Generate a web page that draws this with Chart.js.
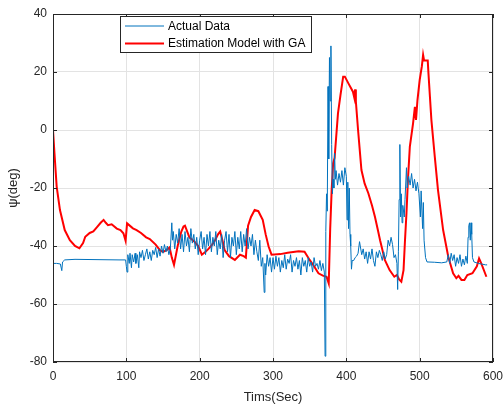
<!DOCTYPE html>
<html>
<head>
<meta charset="utf-8">
<script src="https://cdn.jsdelivr.net/npm/chart.js@4/dist/chart.umd.min.js"></script>
<style>
  html, body { margin: 0; padding: 0; background: #fff; }
  #box { width: 503px; height: 405px; }
</style>
</head>
<body>
<div id="box"><canvas id="grafico"></canvas></div>
<script>
// dados
const actualTime = [0, 5, 10, 12, 13, 16, 30, 60, 90, 99, 100, 101, 102, 104, 105, 107, 108, 110, 112, 113,
  115, 117, 118, 120, 122, 124, 126, 128, 130, 132, 134, 136, 138, 140, 142, 144, 146, 148, 150, 152,
  154, 156, 158, 160, 162, 163, 164, 166, 168, 170, 172, 174, 176, 178, 180, 182, 184, 186, 188, 190,
  192, 194, 196, 198, 200, 202, 204, 206, 208, 210, 212, 214, 216, 218, 220, 222, 224, 226, 228, 230,
  232, 234, 236, 238, 240, 242, 244, 246, 248, 250, 252, 254, 256, 258, 260, 262, 264, 266, 268, 270,
  272, 274, 276, 278, 280, 282, 284, 286, 288, 289, 290, 292, 294, 296, 298, 300, 302, 304, 306, 308,
  310, 312, 314, 316, 318, 320, 322, 324, 326, 328, 330, 332, 334, 336, 338, 340, 342, 344, 346, 348,
  350, 352, 354, 356, 358, 360, 362, 364, 366, 368, 370, 371, 372, 373, 374, 375, 376, 377, 378, 379,
  380, 381, 382, 383, 384, 385, 386, 388, 390, 392, 394, 396, 398, 400, 401, 402, 403, 404, 405, 406,
  407, 408, 410, 412, 414, 416, 418, 421, 423, 425, 427, 429, 431, 433, 435, 437, 439, 441, 443, 445,
  447, 449, 451, 453, 455, 457, 459, 461, 463, 465, 467, 469, 470, 471, 472, 473, 474, 475, 476, 477,
  479, 480, 482, 483, 485, 487, 489, 491, 493, 495, 497, 499, 501, 502, 504, 505, 506, 508, 510, 520,
  530, 537, 539, 541, 543, 545, 547, 549, 551, 553, 555, 557, 559, 561, 563, 565, 566, 567, 568, 569,
  570, 571, 572, 574, 580, 590, 592];
const actualPsi = [-46, -46, -46.2, -48.5, -45.5, -44.8, -44.6, -44.7, -44.8, -44.8, -47, -49, -43, -46, -42.5, -47.5, -43, -45.5, -42.5, -46,
  -43, -47.5, -42, -44, -41.5, -45, -43, -41, -44.5, -42, -45, -41.5, -43, -40.5, -44, -41, -43.5, -40, -42.5, -39.5,
  -42, -40, -43, -41, -32, -38, -35, -41, -36, -39, -34, -41, -36, -42, -35, -40, -37, -42, -34, -39,
  -36, -41, -37, -43, -38, -35, -41, -37, -43, -36, -40, -35, -42, -37, -40, -35, -43, -38, -41, -36,
  -44, -38, -35, -42, -36, -44, -37, -40, -35, -43, -37, -41, -35, -42, -36, -40, -34, -41, -37, -40,
  -36, -43, -38, -42, -45, -38, -47, -44, -56, -46, -50, -43, -47, -44, -49, -44, -48, -43.5, -47, -44,
  -49, -45, -47.5, -43, -48, -44.5, -46, -43, -49, -45, -47, -44, -48, -45, -50, -44, -47, -45, -49, -44,
  -47, -45.5, -49, -44, -47, -46, -48, -45, -48.5, -46, -49, -78, -35, -22, -28, 15, -10, 25, 10, 29,
  -5, -22, -17, -20, -8, -17, -14, -19, -15, -18, -14, -19, -13, -16, -31, -18, -34, -20, -36, -40,
  -48, -45, -45, -44, -43.5, -42.5, -38.5, -43, -41, -44.5, -42, -46, -42, -44.5, -41, -45, -47, -42, -44, -41.5,
  -43, -45, -42, -44.5, -43, -38, -40, -37, -39.5, -44, -43, -46, -55, -42, -24, -5, -30, -22, -32, -26,
  -30, -24, -13, -20, -16, -19, -15, -20, -17, -21, -18, -22, -30, -21, -34, -25, -38, -44, -45.5, -45.6,
  -45.8, -45.5, -43, -46, -42.5, -45, -43, -47, -44, -46, -43, -47, -44.5, -46.5, -43.5, -46, -37, -33, -32, -38,
  -32, -36, -44, -45.5, -46, -46.5, -46.5];

const estTime = [0, 2, 5, 9.5, 16, 23, 30, 36, 41, 44, 50, 55, 60, 65, 69, 72, 75, 80, 87, 92,
  96, 99, 101, 109, 114, 120, 127, 132, 140, 146, 150, 155, 159, 162, 165, 170, 175, 178, 180, 186,
  193, 198, 203, 208, 212, 217, 221, 225, 228, 231, 234, 240, 248, 255, 260, 263, 266, 270, 275, 280,
  286, 290, 294, 298, 310, 320, 335, 343, 350, 356, 362, 368, 373, 376, 378, 380, 382, 384, 388.6, 392,
  395.7, 398, 403, 409, 411, 412, 413, 416, 420.6, 425, 430, 435, 439, 443, 446, 452.5, 459, 465.4, 469, 472,
  475, 478, 480, 482, 484, 486.6, 491, 493.5, 495, 497, 500, 503, 504.7, 506, 511, 512, 516, 520.6, 525, 532,
  539, 545.6, 550, 553, 557, 561, 565, 572, 578, 581, 584, 591];
const estPsi = [0, -8, -19.5, -27.6, -34.5, -38, -40, -40.8, -39, -36.8, -35.5, -35, -33.5, -32, -31, -32, -32.8, -32.5, -34, -34.5,
  -35.6, -38.2, -32.2, -33.9, -34.5, -35.5, -37, -37.6, -39.5, -41.5, -42, -41.4, -40.5, -44, -46.5, -40, -35, -33.3, -33, -37,
  -38.5, -40, -43, -42, -41, -39.5, -38, -36, -35, -38, -41.4, -43.5, -44.8, -43, -43.5, -44, -33, -30, -27.6, -28,
  -31, -36, -40.2, -43, -42.8, -42.3, -41.8, -42, -44.8, -47, -49.4, -50.2, -50.6, -52.9, -34, -20.7, -11.5, -9.6, 5.7, 12,
  18.4, 18.4, 16, 13.2, 11, 14, 9.8, 0, -13.8, -18.5, -21.8, -26, -29.9, -34.5, -38, -44.8, -48.3, -50.6, -50, -51.5,
  -52.3, -48.3, -38, -28.7, -17.2, -5.7, 2.3, 8, 3.5, 10.3, 17.2, 22, 25.9, 24, 24, 19.5, 3.4, -9.2, -20.7, -34.5,
  -43.7, -49.4, -51.1, -50.3, -51.7, -51.7, -50, -49.4, -47, -44.3, -46, -50.6];

const xTicks = [0, 100, 200, 300, 400, 500, 600];
const yTicks = [-80, -60, -40, -20, 0, 20, 40];
const seriesNames = ['Actual Data', 'Estimation Model with GA'];

const fonte = '"Liberation Sans", Arial, sans-serif';
const corEixo = '#262626';

// moldura com ticks para dentro e legenda no estilo do MATLAB
const molduraPlugin = {
    id: 'moldura',
    afterDatasetsDraw(chart) {
        const { ctx, chartArea: a, scales } = chart;
        ctx.save();
        ctx.strokeStyle = corEixo;
        ctx.lineWidth = 1;
        ctx.strokeRect(Math.round(a.left) + 0.5, Math.round(a.top) + 0.5,
            Math.round(a.width) - 1, Math.round(a.height) - 1);

        const tam = 4;
        ctx.beginPath();
        xTicks.forEach(v => {
            const px = Math.round(scales.x.getPixelForValue(v)) + 0.5;
            ctx.moveTo(px, a.bottom); ctx.lineTo(px, a.bottom - tam);
            ctx.moveTo(px, a.top); ctx.lineTo(px, a.top + tam);
        });
        yTicks.forEach(v => {
            const py = Math.round(scales.y.getPixelForValue(v)) + 0.5;
            ctx.moveTo(a.left, py); ctx.lineTo(a.left + tam, py);
            ctx.moveTo(a.right, py); ctx.lineTo(a.right - tam, py);
        });
        ctx.stroke();

        // legenda
        const lx = 120.5, ly = 16.5, lw = 191, lh = 36;
        ctx.fillStyle = '#fff';
        ctx.fillRect(lx, ly, lw, lh);
        ctx.strokeStyle = corEixo;
        ctx.strokeRect(lx, ly, lw, lh);
        ctx.font = '12px ' + fonte;
        ctx.textBaseline = 'middle';
        chart.data.datasets.forEach((ds, i) => {
            const y = 26 + i * 17.5;
            ctx.strokeStyle = ds.borderColor;
            ctx.lineWidth = ds.borderWidth;
            ctx.beginPath();
            ctx.moveTo(125, y); ctx.lineTo(164, y);
            ctx.stroke();
            ctx.fillStyle = '#000';
            ctx.fillText(ds.label, 168, y + 0.5);
        });
        ctx.restore();
    }
};

new Chart(document.getElementById('grafico'), {
    type: 'line',
    data: {
        datasets: [{
            label: seriesNames[0],
            data: actualTime.map((t, i) => ({ x: t, y: actualPsi[i] })),
            borderColor: '#0072BD',
            borderWidth: 1,
            pointRadius: 0,
            tension: 0
        }, {
            label: seriesNames[1],
            data: estTime.map((t, i) => ({ x: t, y: estPsi[i] })),
            borderColor: '#FF0000',
            borderWidth: 2,
            pointRadius: 0,
            tension: 0
        }]
    },
    options: {
        responsive: true,
        maintainAspectRatio: false,
        animation: false,
        layout: { padding: { top: 14, right: 0, left: 0, bottom: 0 } },
        plugins: { legend: { display: false }, tooltip: { enabled: false } },
        scales: {
            x: {
                type: 'linear',
                min: 0, max: 600,
                afterBuildTicks: s => { s.ticks = xTicks.map(v => ({ value: v })); },
                afterFit: s => { s.height = 43; s.paddingRight = 10; },
                grid: { color: '#e3e3e3', drawTicks: false },
                border: { display: false },
                ticks: { padding: 7, color: corEixo, font: { family: fonte, size: 12 }, maxRotation: 0 },
                title: { display: true, text: 'Tims(Sec)', color: corEixo,
                    font: { family: fonte, size: 13 }, padding: { top: 0, bottom: 0 } }
            },
            y: {
                min: -80, max: 40,
                afterBuildTicks: s => { s.ticks = yTicks.map(v => ({ value: v })); },
                afterFit: s => { s.width = 53; },
                grid: { color: '#e3e3e3', drawTicks: false },
                border: { display: false },
                ticks: { padding: 6, color: corEixo, font: { family: fonte, size: 12 } },
                title: { display: true, text: 'ψ(deg)', color: corEixo,
                    font: { family: fonte, size: 13 }, padding: { top: 6, bottom: 0 } }
            }
        }
    },
    plugins: [molduraPlugin]
});
</script>
</body>
</html>
